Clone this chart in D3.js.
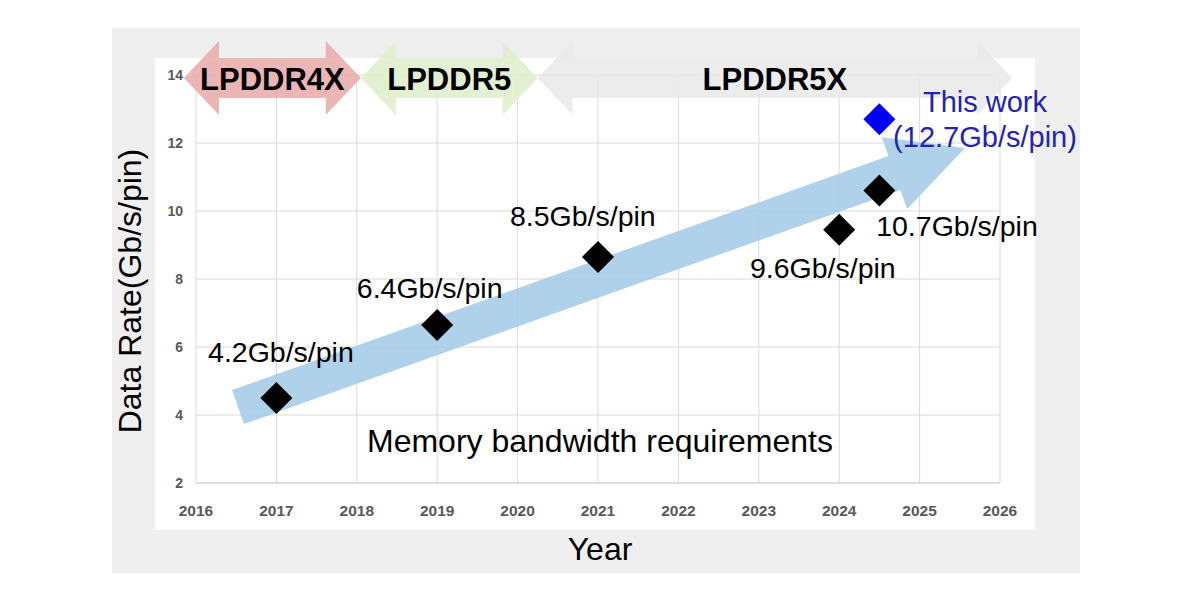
<!DOCTYPE html><html><head><meta charset="utf-8"><script src="https://cdn.jsdelivr.net/npm/d3@7"></script>
<style>body{margin:0;background:#fff}</style></head><body><svg id="c" width="1200" height="600"></svg>
<script>
const xTicks=[2016,2017,2018,2019,2020,2021,2022,2023,2024,2025,2026];
const yTicks=[2,4,6,8,10,12,14];
const years=[2017,2019,2021,2024,2024.5];
const rates=[4.5,6.65,8.65,9.45,10.6];
const pointLabels=["4.2Gb/s/pin","6.4Gb/s/pin","8.5Gb/s/pin","9.6Gb/s/pin","10.7Gb/s/pin"];
const labelPos=[[2016.15,5.56],[2018.0,7.44],[2019.905,9.56],[2022.89,8.03],[2024.46,9.26]];
const thisWork={year:2024.5,rate:12.7};
const gens=[{name:"LPDDR4X",from:2015.85,to:2018.05,fill:"#e9a9a9"},{name:"LPDDR5",from:2018.05,to:2020.25,fill:"#dcefc9"},{name:"LPDDR5X",from:2020.25,to:2026.15,fill:"#e9e9e9"}];
const trendArrow=[[2016.448,4.735],[2024.612,11.615],[2024.529,12.168],[2025.565,11.853],[2024.845,10.062],[2024.761,10.615],[2016.597,3.735]];

const svg=d3.select("#c");
const x=d3.scaleLinear().domain([2016,2026]).range([196,1000]);
const y=d3.scaleLinear().domain([2,14]).range([483,75]);
const F="Liberation Sans, Arial";
svg.append("rect").attr("x",112).attr("y",28).attr("width",968).attr("height",545).attr("fill","#efefef");
svg.append("rect").attr("x",155).attr("y",58).attr("width",880).attr("height",472).attr("fill","#fff");
const g=svg.append("g");
g.selectAll(".vg").data(xTicks).join("line").attr("x1",d=>x(d)).attr("x2",d=>x(d)).attr("y1",y(14)).attr("y2",y(2)).attr("stroke","#d9d9d9");
g.selectAll(".hg").data(yTicks).join("line").attr("x1",x(2016)).attr("x2",x(2026)).attr("y1",d=>y(d)).attr("y2",d=>y(d)).attr("stroke",d=>d===2?"#bfbfbf":"#d9d9d9");
g.selectAll(".xt").data(xTicks).join("text").attr("x",d=>x(d)).attr("y",516).attr("text-anchor","middle").attr("font-family",F).attr("font-weight","bold").attr("font-size",15.5).attr("fill","#595959").text(d=>d);
g.selectAll(".yt").data(yTicks).join("text").attr("x",183).attr("y",d=>y(d)+5).attr("text-anchor","end").attr("font-family",F).attr("font-weight","bold").attr("font-size",14).attr("fill","#595959").text(d=>d);
const cy=78,sh=20,hh=37,hl=35;
gens.forEach(gn=>{const a=x(gn.from),b=x(gn.to);
 const pts=[[a,cy],[a+hl,cy-hh],[a+hl,cy-sh],[b-hl,cy-sh],[b-hl,cy-hh],[b,cy],[b-hl,cy+hh],[b-hl,cy+sh],[a+hl,cy+sh],[a+hl,cy+hh]];
 svg.append("polygon").attr("points",pts.map(p=>p.join(",")).join(" ")).attr("fill",gn.fill).attr("opacity",0.85);
 svg.append("text").attr("x",(a+b)/2).attr("y",cy+12).attr("text-anchor","middle").attr("font-family",F).attr("font-weight","bold").attr("font-size",31).attr("fill","#000").text(gn.name);
});
svg.append("polygon").attr("points",trendArrow.map(p=>[x(p[0]),y(p[1])].join(",")).join(" ")).attr("fill","#a6cde8").attr("opacity",0.9);
const dia=16;
svg.selectAll(".pt").data(years).join("path").attr("d",(d,i)=>{const cx=x(d),cyy=y(rates[i]);return `M${cx},${cyy-dia}L${cx+dia},${cyy}L${cx},${cyy+dia}L${cx-dia},${cyy}Z`;}).attr("fill","#000");
svg.append("path").attr("d",()=>{const cx=x(thisWork.year),cyy=y(thisWork.rate);return `M${cx},${cyy-dia}L${cx+dia},${cyy}L${cx},${cyy+dia}L${cx-dia},${cyy}Z`;}).attr("fill","#0000ff");
svg.selectAll(".pl").data(pointLabels).join("text").attr("x",(d,i)=>x(labelPos[i][0])).attr("y",(d,i)=>y(labelPos[i][1])).attr("font-family",F).attr("font-size",28.5).attr("fill","#000").text(d=>d);
svg.append("text").attr("x",985).attr("y",112).attr("text-anchor","middle").attr("font-family",F).attr("font-size",29).attr("fill","#2323b0").text("This work");
svg.append("text").attr("x",985).attr("y",147).attr("text-anchor","middle").attr("font-family",F).attr("font-size",29).attr("fill","#2323b0").text("(12.7Gb/s/pin)");
svg.append("text").attr("x",600).attr("y",452).attr("text-anchor","middle").attr("font-family",F).attr("font-size",32).attr("fill","#000").text("Memory bandwidth requirements");
svg.append("text").attr("x",600).attr("y",560).attr("text-anchor","middle").attr("font-family",F).attr("font-size",32).attr("fill","#000").text("Year");
svg.append("text").attr("transform","translate(141,291) rotate(-90)").attr("text-anchor","middle").attr("font-family",F).attr("font-size",32).attr("fill","#000").text("Data Rate(Gb/s/pin)");
</script></body></html>
